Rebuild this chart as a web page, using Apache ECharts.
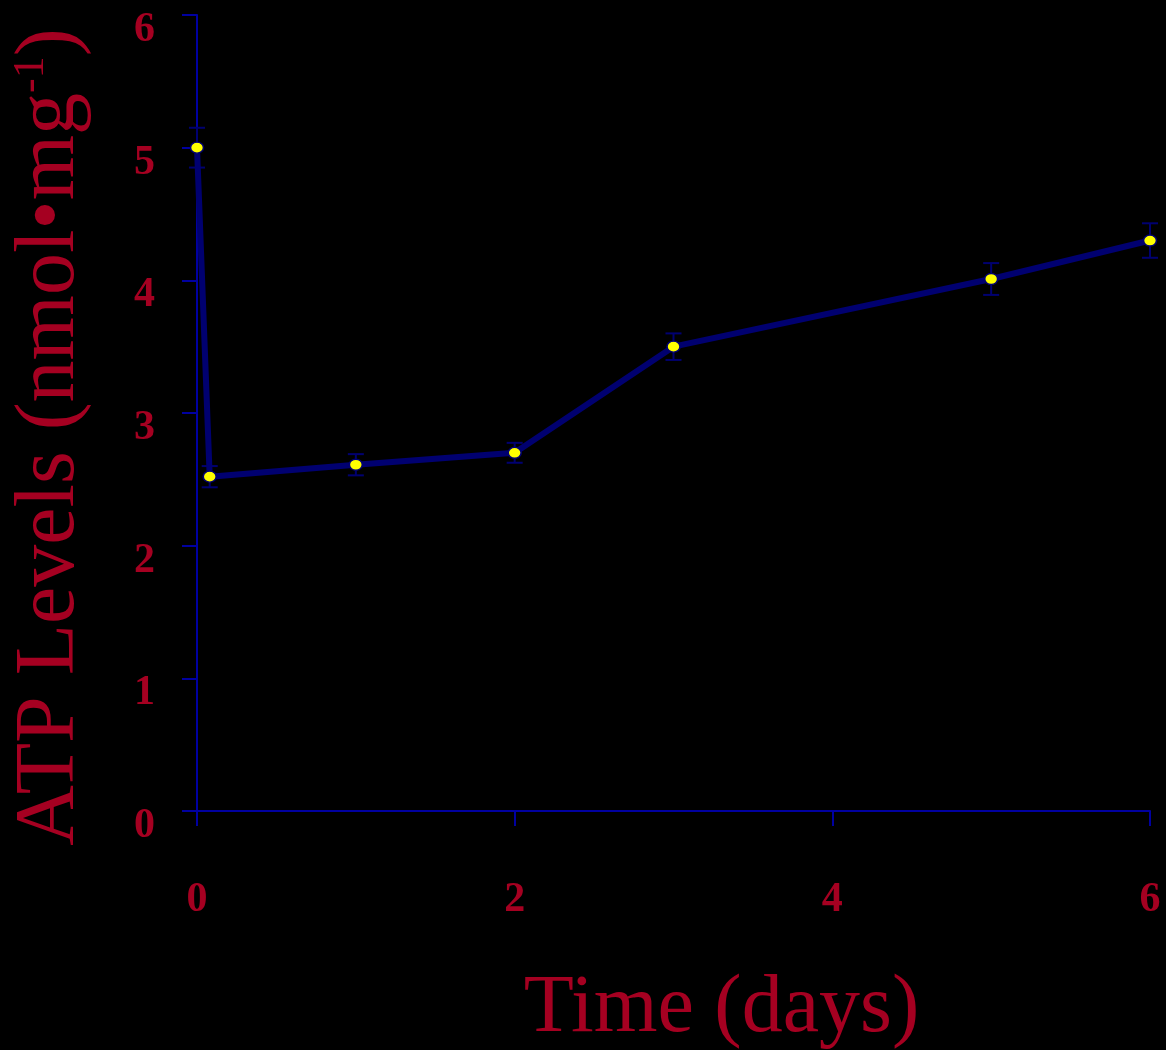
<!DOCTYPE html>
<html>
<head>
<meta charset="utf-8">
<script src="https://cdn.jsdelivr.net/npm/echarts@6/dist/echarts.min.js"></script>
<style>
html, body { margin: 0; padding: 0; background: #000; }
#main { width: 1166px; height: 1050px; }
</style>
</head>
<body>
<div id="main"></div>
<script>
// time in days, ATP level, error (half bar)
var days = [0, 0.08, 1, 2, 3, 5, 6];
var atp = [5.0, 2.52, 2.61, 2.70, 3.50, 4.01, 4.30];
var err = [0.15, 0.08, 0.08, 0.075, 0.10, 0.12, 0.13];

var red = '#a50021';
var axisBlue = '#0000a0';
var lineBlue = '#000070';

var pts = [];
var bars = [];
for (var i = 0; i < days.length; i++) {
	pts.push([days[i], atp[i]]);
	bars.push([days[i], atp[i], err[i]]);
}

function errorBar(params, api) {
	var x = api.value(0), y = api.value(1), e = api.value(2);
	var hi = api.coord([x, y + e]);
	var lo = api.coord([x, y - e]);
	var w = 8;
	var st = { stroke: lineBlue, lineWidth: 2 };
	return {
		type: 'group',
		children: [
			{ type: 'line', shape: { x1: hi[0], y1: hi[1], x2: lo[0], y2: lo[1] }, style: st },
			{ type: 'line', shape: { x1: hi[0] - w, y1: hi[1], x2: hi[0] + w, y2: hi[1] }, style: st },
			{ type: 'line', shape: { x1: lo[0] - w, y1: lo[1], x2: lo[0] + w, y2: lo[1] }, style: st }
		]
	};
}

var chart = echarts.init(document.getElementById('main'));
var option = {
	backgroundColor: '#000',
	animation: false,
	grid: { left: 197, right: 16, top: 15, bottom: 239, containLabel: false, outerBoundsMode: 'none' },
	xAxis: {
		type: 'value',
		min: 0, max: 6, interval: 2,
		name: 'Time (days)',
		nameLocation: 'middle',
		nameGap: 157,
		nameTextStyle: { color: red, fontFamily: 'Liberation Serif', fontSize: 82, padding: [0, 0, 0, 96] },
		axisLine: { show: true, lineStyle: { color: axisBlue, width: 2 } },
		axisTick: { show: true, inside: false, length: 15, lineStyle: { color: axisBlue, width: 2 } },
		axisLabel: { color: red, fontFamily: 'Liberation Serif', fontWeight: 'bold', fontSize: 42, margin: 68 },
		splitLine: { show: false }
	},
	yAxis: {
		type: 'value',
		min: 0, max: 6, interval: 1,
		name: 'ATP Levels (nmol\u2022mg{sup|-1})',
		nameLocation: 'middle',
		nameRotate: 90,
		nameGap: 104,
		nameTextStyle: {
			color: red, fontFamily: 'Liberation Serif', fontSize: 84, padding: [0, 48, 0, 0],
			rich: {
				sup: { color: red, fontFamily: 'Liberation Serif', fontSize: 44, verticalAlign: 'top', padding: [0, 0, 34, 0] }
			}
		},
		axisLine: { show: true, lineStyle: { color: axisBlue, width: 2 } },
		axisTick: { show: true, inside: false, length: 15, lineStyle: { color: axisBlue, width: 2 } },
		axisLabel: { color: red, fontFamily: 'Liberation Serif', fontWeight: 'bold', fontSize: 42, margin: 42, verticalAlign: 'top', lineHeight: 30 },
		splitLine: { show: false }
	},
	series: [
		{
			type: 'custom',
			renderItem: errorBar,
			data: bars,
			encode: { x: 0, y: 1 },
			z: 1,
			clip: false
		},
		{
			type: 'line',
			data: pts,
			z: 2,
			clip: false,
			lineStyle: { color: lineBlue, width: 6 },
			symbol: 'circle',
			symbolSize: [13, 11],
			itemStyle: { color: '#ffff00', borderColor: lineBlue, borderWidth: 1.5 }
		}
	]
};
chart.setOption(option);
</script>
</body>
</html>
